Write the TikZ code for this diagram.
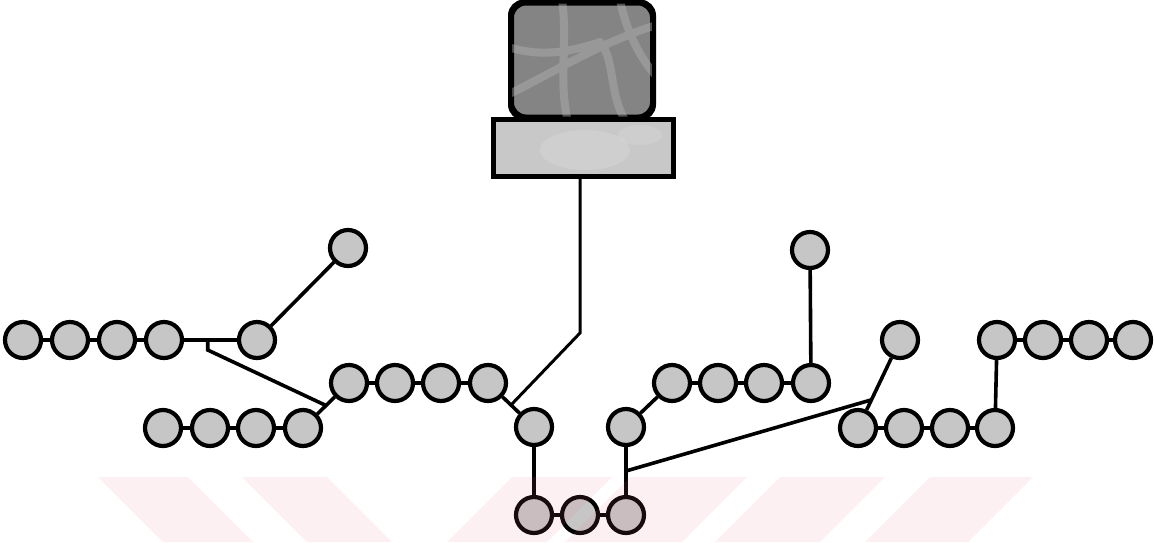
\documentclass[tikz,border=0pt]{standalone}
\usetikzlibrary{calc}
\definecolor{beadfill}{RGB}{198,198,198}
\definecolor{screenfill}{RGB}{132,132,132}
\definecolor{streak}{RGB}{178,178,178}
\definecolor{basefill}{RGB}{200,200,200}
\definecolor{glow}{RGB}{222,222,222}
\definecolor{tint}{RGB}{230,110,140}
\begin{document}
\begin{tikzpicture}[x=1pt,y=-1pt,
  bead/.style={circle,draw,line width=4.2pt,fill=beadfill,minimum size=36pt,inner sep=0pt},
  link/.style={line width=3.6pt},
  cable/.style={line width=3pt},
  stripe/.style={fill=tint,fill opacity=0.1,draw=none}]
\useasboundingbox (0,0) rectangle (1154,542);

% terminal: stand and screen
\node[draw,line width=3.8pt,fill=basefill,minimum width=178pt,minimum height=55pt,inner sep=0pt] (stand) at (583.5,148) {};
\begin{scope}
  \clip (stand.south west) rectangle (stand.north east);
  \fill[glow,opacity=0.35] (585,150) ellipse (45pt and 20pt);
  \fill[glow,opacity=0.3] (640,135) ellipse (22pt and 10pt);
\end{scope}
\draw[line width=3.8pt] (stand.south west) rectangle (stand.north east);
\node[draw,line width=4pt,rounded corners=14pt,fill=screenfill,minimum width=140pt,minimum height=113pt,inner sep=0pt] (screen) at (582,60) {};
\begin{scope}
  \clip[rounded corners=14pt] (screen.south west) rectangle (screen.north east);
  \draw[streak,line width=8pt,opacity=0.45,line cap=round]
    (505,96) .. controls (555,72) and (600,42) .. (660,24)
    (562,0) .. controls (568,40) and (558,80) .. (568,122)
    (600,42) .. controls (616,62) and (608,92) .. (626,122)
    (505,46) .. controls (540,58) and (570,52) .. (600,42)
    (620,0) .. controls (626,30) and (640,60) .. (660,80);
\end{scope}
\draw[line width=4pt,rounded corners=14pt] (screen.south west) rectangle (screen.north east);

% beads
\foreach \n/\x/\y in {a1/23/340,a2/70/340,a3/117/340,a4/164/340,an/257/340,at/348/248,
  b1/163/428,b2/210/428,b3/256/428,b4/303/428,
  m1/349/383,m2/395/383,m3/441/383,m4/488/383,
  c1/534/427,d1/534/515,d2/580/515,d3/626/515,c2/626/427,
  n1/672/383,n2/718/383,n3/764/383,n4/811/383,nt/810/250,
  rn/900/340,
  p1/997/340,p2/1043/340,p3/1089/340,p4/1133/340,
  q1/858/428,q2/904/428,q3/950/428,q4/995/428}
  \node[bead] (\n) at (\x,\y) {};

% chain links
\foreach \u/\v in {a1/a2,a2/a3,a3/a4,a4/an,an/at,
  b1/b2,b2/b3,b3/b4,b4/m1,m1/m2,m2/m3,m3/m4,m4/c1,c1/d1,
  d1/d2,d2/d3,d3/c2,c2/n1,n1/n2,n2/n3,n3/n4,n4/nt,
  rn/q1,q1/q2,q2/q3,q3/q4,q4/p1,p1/p2,p2/p3,p3/p4}
  \draw[link] (\u) -- (\v);

% branch joints
\coordinate (lsplit) at ($(a4)!0.47!(an)$);
\coordinate (ljoin) at ($(b4)!0.5!(m1)$);
\coordinate (bend) at (580,333);
\coordinate (cjoin) at ($(m4)!0.5!(c1)$);
\coordinate (bsplit) at ($(d3)!0.5!(c2)$);
\coordinate (rjoin) at ($(rn)!0.68!(q1)$);

\draw[link] (lsplit) -- ++(0,10) -- (ljoin);
\draw[cable] (stand.south -| bend) -- (bend) -- (cjoin);
\draw[link] (bsplit) -- (rjoin);

% faint stripes across the bottom
\fill[stripe] (98,477) -- (188,477) -- (253,542) -- (163,542) -- cycle;
\fill[stripe] (242,477) -- (327,477) -- (392,542) -- (307,542) -- cycle;
\fill[stripe] (512,477) -- (612,477) -- (547,542) -- (447,542) -- cycle;
\fill[stripe] (630,477) -- (747,477) -- (682,542) -- (565,542) -- cycle;
\fill[stripe] (780,477) -- (885,477) -- (820,542) -- (715,542) -- cycle;
\fill[stripe] (930,477) -- (1033,477) -- (968,542) -- (865,542) -- cycle;
\end{tikzpicture}
\end{document}
